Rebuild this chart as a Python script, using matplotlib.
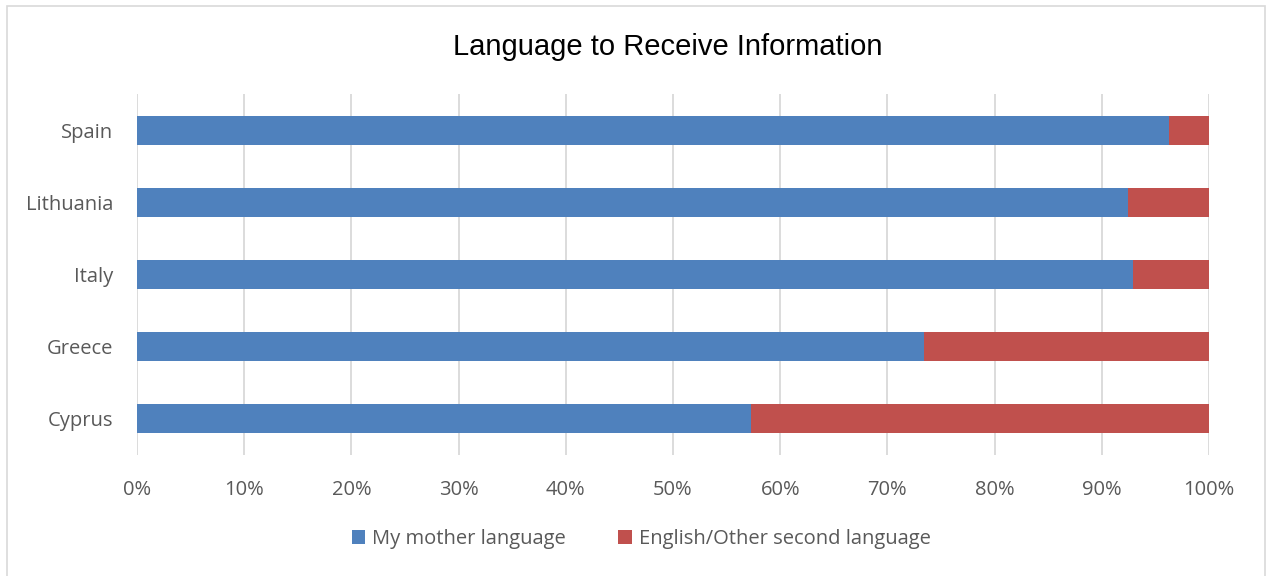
import matplotlib.pyplot as plt
import matplotlib.patches as mpatches
from matplotlib.ticker import PercentFormatter
import numpy as np

# share of respondents per country, in percent
countries = ['Cyprus', 'Greece', 'Italy', 'Lithuania', 'Spain']
mother = [57.3, 73.4, 92.9, 92.4, 96.3]
other = [100 - m for m in mother]

blue = '#4f81bd'
red = '#c0504d'
txt = '#595959'

fig = plt.figure(figsize=(12.7, 5.76), dpi=100)
ax = fig.add_axes([137/1270, 1 - 455/576, (1209 - 137)/1270, (455 - 94)/576])

y = np.arange(len(countries))
ax.barh(y, mother, height=0.4, color=blue, label='My mother language', zorder=3)
ax.barh(y, other, left=mother, height=0.4, color=red, label='English/Other second language', zorder=3)

ax.set_xlim(0, 100)
ax.set_ylim(-0.5, len(countries) - 0.5)
ax.set_xticks(np.arange(0, 101, 10))
ax.xaxis.set_major_formatter(PercentFormatter(decimals=0))
ax.set_yticks(y)
ax.set_yticklabels(countries)
ax.grid(axis='x', color='#d9d9d9', linewidth=1.3, zorder=0)
for s in ax.spines.values():
    s.set_visible(False)
ax.tick_params(length=0, labelsize=14.5, labelcolor=txt)
ax.tick_params(axis='x', pad=18)
ax.tick_params(axis='y', pad=17)
for lab in ax.get_xticklabels() + ax.get_yticklabels():
    lab.set_family('Open Sans')

fig.text(0.526, 1 - 47/576, 'Language to Receive Information', ha='center', va='center',
         fontsize=21, family='Liberation Sans', color='black')

leg = fig.legend(loc='center', bbox_to_anchor=(0.505, 1 - 539/576), ncol=2, frameon=False,
                 handlelength=0.65, handleheight=0.65, handletextpad=0.35, columnspacing=2.6,
                 prop={'family': 'Open Sans', 'size': 14.5})
for t in leg.get_texts():
    t.set_color(txt)

# outer chart border
fig.patches.append(mpatches.Rectangle((7/1270, -0.01), 1258/1270, 1 - 6/576 + 0.01,
                                      transform=fig.transFigure, fill=False,
                                      edgecolor='#d9d9d9', linewidth=1.2))

fig.savefig('out.png', dpi=100)
